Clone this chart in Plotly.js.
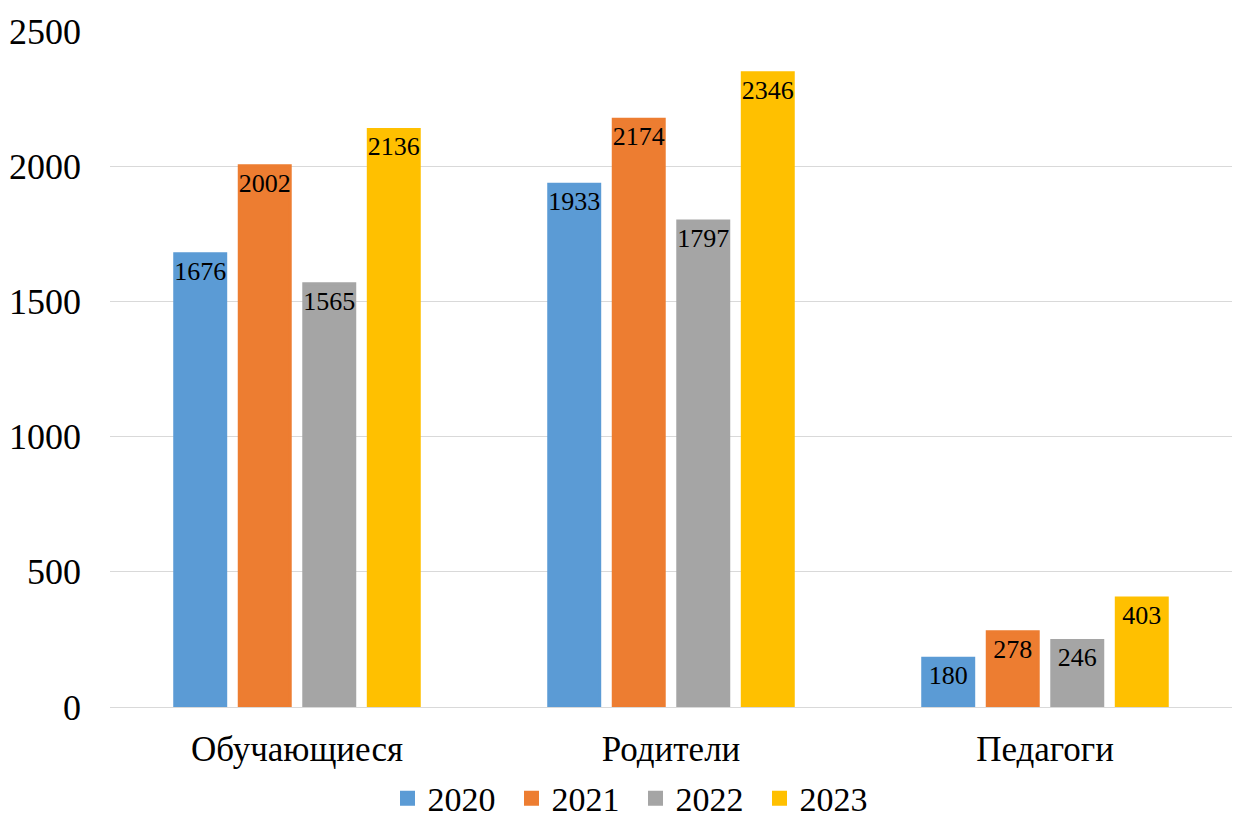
<!DOCTYPE html>
<html>
<head>
<meta charset="utf-8">
<script src="https://cdn.plot.ly/plotly-3.0.1.min.js"></script>
<style>html,body{margin:0;padding:0;background:#fff;}#chart{width:1234px;height:819px;}</style>
</head>
<body>
<div id="chart"></div>
<script>
const categories = ["Обучающиеся", "Родители", "Педагоги"];
const years = ["2020", "2021", "2022", "2023"];
const values2020 = [1676, 1933, 180];
const values2021 = [2002, 2174, 278];
const values2022 = [1565, 1797, 246];
const values2023 = [2136, 2346, 403];
const yTicks = [0, 500, 1000, 1500, 2000, 2500];

const series = [values2020, values2021, values2022, values2023];
const colors = ["#5B9BD5", "#ED7D31", "#A5A5A5", "#FFC000"];
const FAM = "Liberation Serif";

const traces = series.map((vals, i) => ({
  type: "bar",
  name: years[i],
  x: categories,
  y: vals,
  marker: {color: colors[i], line: {color: colors[i], width: 3}},
  text: vals.map(String),
  textposition: "inside",
  insidetextanchor: "end",
  textangle: 0,
  constraintext: "none",
  textfont: {family: FAM, size: 26, color: "#000"},
  hoverinfo: "none"
}));

const layout = {
  width: 1234,
  height: 819,
  margin: {l: 110, r: 2, t: 31, b: 112},
  paper_bgcolor: "#fff",
  plot_bgcolor: "#fff",
  barmode: "group",
  bargap: 0.31,
  bargroupgap: 0.21,
  font: {family: FAM, color: "#000"},
  xaxis: {
    tickfont: {family: FAM, size: 35, color: "#000"},
    showgrid: false, showline: false, ticks: "", ticklabelstandoff: 18
  },
  yaxis: {
    range: [0, 2500], tickvals: yTicks, ticktext: yTicks.map(String),
    tickfont: {family: FAM, size: 36, color: "#000"},
    showgrid: true, gridcolor: "#d9d9d9", gridwidth: 1,
    zeroline: true, zerolinecolor: "#d9d9d9", zerolinewidth: 1,
    showline: false, ticks: "", ticklabelstandoff: 28
  },
  showlegend: true,
  legend: {
    orientation: "h", x: 0.515, xanchor: "center", xref: "container", yref: "container",
    y: 0.025, yanchor: "middle",
    font: {family: FAM, size: 34, color: "#000"},
    itemwidth: 30, entrywidth: 79, traceorder: "normal"
  }
};

Plotly.newPlot("chart", traces, layout, {displayModeBar: false});
</script>
</body>
</html>
